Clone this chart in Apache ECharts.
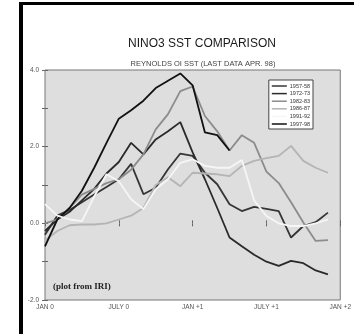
<!DOCTYPE html>
<html>
<head>
<meta charset="utf-8">
<script src="https://cdn.jsdelivr.net/npm/echarts@6/dist/echarts.min.js"></script>
<style>
  html, body { margin: 0; padding: 0; background: #fff; }
  #chart { width: 354px; height: 334px; }
</style>
</head>
<body>
<div id="chart"></div>
<script>
// Months run from JAN of the onset year (0) to DEC of the following year (23)
const monthTicks = ['JAN 0', 'JULY 0', 'JAN +1', 'JULY +1', 'JAN +2'];
const seriesNames = ['1957-58', '1972-73', '1982-83', '1986-87', '1991-92', '1997-98'];

// Monthly NINO3 SST anomalies (deg C)
const sst5758 = [-0.3, 0.2, 0.35, 0.55, 0.75, 0.95, 1.15, 1.55, 0.76, 0.93, 1.41, 1.82,
                 1.76, 1.32, 1.02, 0.5, 0.32, 0.43, 0.38, 0.32, -0.37, -0.07, 0.03, 0.28];
const sst7273 = [-0.2, 0.1, 0.3, 0.6, 0.9, 1.3, 1.6, 2.1, 1.8, 2.19, 2.4, 2.64,
                 1.85, 1.15, 0.4, -0.37, -0.6, -0.82, -1.0, -1.11, -0.98, -1.04, -1.23, -1.33];
const sst8283 = [0.0, 0.1, 0.4, 0.75, 0.9, 1.05, 1.15, 1.4, 1.8, 2.45, 2.85, 3.45,
                 3.57, 2.8, 2.4, 1.9, 2.3, 2.1, 1.35, 1.05, 0.55, 0.02, -0.46, -0.44];
const sst8687 = [-0.45, -0.2, -0.05, -0.03, -0.03, 0.0, 0.1, 0.2, 0.4, 1.0, 1.2, 0.97,
                 1.32, 1.3, 1.28, 1.23, 1.5, 1.63, 1.7, 1.76, 2.02, 1.63, 1.45, 1.32];
const sst9192 = [0.5, 0.2, 0.1, 0.06, 0.7, 1.28, 1.1, 0.63, 0.37, 0.89, 1.15, 1.58,
                 1.67, 1.5, 1.45, 1.45, 1.65, 0.6, 0.19, 0.0, -0.07, -0.07, 0.0, 0.1];
const sst9798 = [-0.6, 0.1, 0.4, 0.85, 1.45, 2.1, 2.73, 2.95, 3.2, 3.53, 3.72, 3.91,
                 3.6, 2.37, 2.3, 1.9];

const seriesValues = [sst5758, sst7273, sst8283, sst8687, sst9192, sst9798];
const seriesColors = ['#353535', '#2a2a2a', '#8c8c8c', '#b4b4b4', '#f6f6f6', '#111111'];

const chart = echarts.init(document.getElementById('chart'), null, { renderer: 'canvas' });

const tickFont = { fontFamily: 'Liberation Sans, Arial, sans-serif', fontSize: 6.5, color: '#555' };

const series = seriesNames.map((name, i) => ({
  name: name,
  type: 'line',
  data: seriesValues[i].map((v, m) => [m, v]),
  showSymbol: false,
  lineStyle: { color: seriesColors[i], width: 1.8 },
  itemStyle: { color: seriesColors[i] },
  z: i === 4 ? 3 : 2,
  animation: false
}));

chart.setOption({
  animation: false,
  backgroundColor: '#fff',
  title: [
    {
      text: 'NINO3 SST COMPARISON',
      left: 197, top: 33, textAlign: 'center',
      textStyle: { fontFamily: 'Liberation Sans, Arial, sans-serif', fontSize: 12, fontWeight: 'normal', color: '#1a1a1a' }
    },
    {
      text: 'REYNOLDS OI SST (LAST DATA APR. 98)',
      left: 198, top: 55, textAlign: 'center',
      textStyle: { fontFamily: 'Liberation Sans, Arial, sans-serif', fontSize: 7.5, fontWeight: 'normal', color: '#444' }
    }
  ],
  legend: {
    data: seriesNames,
    orient: 'vertical',
    right: 41, top: 80,
    width: 40,
    padding: [3, 3, 2, 3],
    itemWidth: 15, itemHeight: 1.5, itemGap: 1.6,
    icon: 'rect',
    backgroundColor: '#fff',
    borderColor: '#444', borderWidth: 1,
    textStyle: { fontFamily: 'Liberation Sans, Arial, sans-serif', fontSize: 5.5, color: '#333', padding: [0, 0, 0, -2] }
  },
  grid: { left: 45, top: 70, width: 303, height: 230, show: true, backgroundColor: '#dedede', borderColor: '#777', borderWidth: 1 },
  xAxis: [
    {
      type: 'value', min: 0, max: 24, interval: 6,
      axisLine: { show: false },
      axisTick: { inside: true, length: 3, lineStyle: { color: '#666' } },
      splitLine: { show: false },
      axisLabel: { ...tickFont, margin: 4, formatter: v => monthTicks[v / 6] }
    },
    {
      type: 'value', min: 0, max: 24, interval: 6, position: 'top',
      axisLine: { show: false },
      axisTick: { inside: true, length: 3, lineStyle: { color: '#666' } },
      splitLine: { show: false },
      axisLabel: { show: false }
    }
  ],
  yAxis: [
    {
      type: 'value', min: -2, max: 4, interval: 1,
      axisLine: { show: false },
      axisTick: { inside: true, length: 3, lineStyle: { color: '#666' } },
      splitLine: { show: false },
      axisLabel: { ...tickFont, margin: 6, formatter: v => (v % 2 === 0 ? v.toFixed(1) : '') }
    },
    {
      type: 'value', min: -2, max: 4, interval: 1, position: 'right',
      axisLine: { show: false },
      axisTick: { inside: true, length: 3, lineStyle: { color: '#666' } },
      splitLine: { show: false },
      axisLabel: { show: false }
    }
  ],
  graphic: [
    { type: 'rect', shape: { x: 19, y: 2, width: 4, height: 340 }, style: { fill: '#000' } },
    { type: 'rect', shape: { x: 19, y: 2, width: 340, height: 3 }, style: { fill: '#000' } },
    {
      type: 'text', left: 53, top: 282,
      style: { text: '(plot from IRI)', font: 'bold 9px "Liberation Serif", "DejaVu Serif", serif', fill: '#222' }
    }
  ],
  series: series
});
</script>
</body>
</html>
